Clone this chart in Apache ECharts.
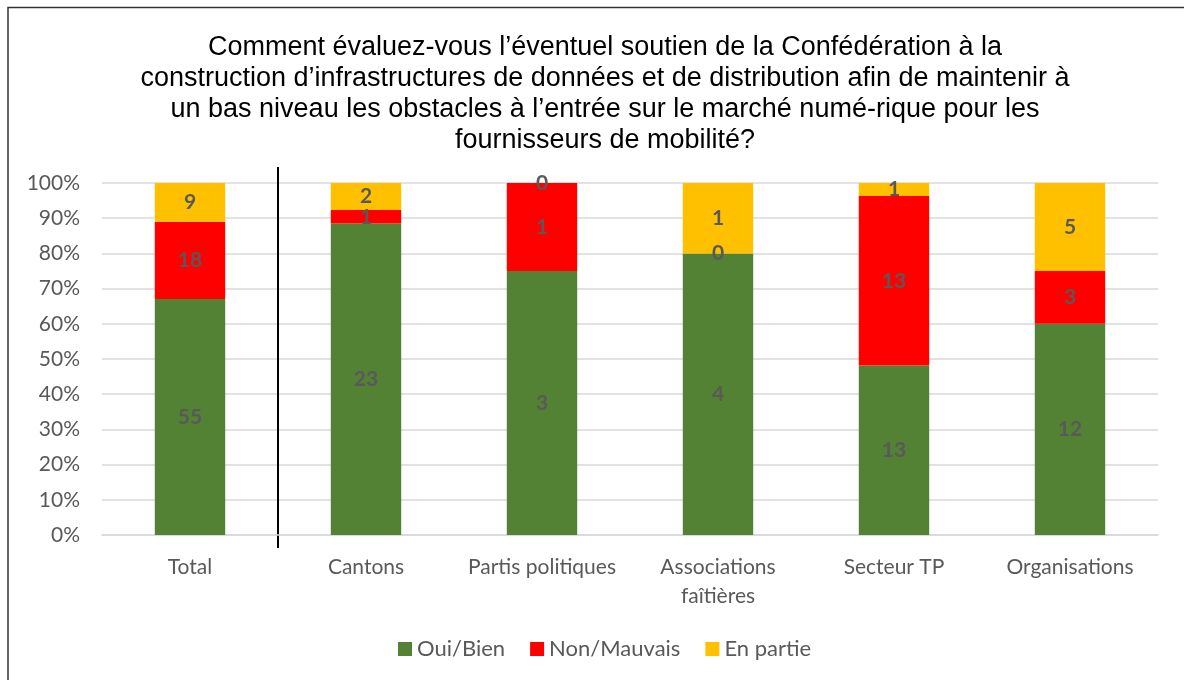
<!DOCTYPE html>
<html><head><meta charset="utf-8">
<script src="https://cdn.jsdelivr.net/npm/echarts@6/dist/echarts.min.js"></script>
<style>html,body{margin:0;padding:0;background:#fff}#c{width:1184px;height:680px}</style>
</head><body><div id="c"></div>
<script>
const categories = ['Total', 'Cantons', 'Partis politiques', 'Associations\nfaîtières', 'Secteur TP', 'Organisations'];
const seriesNames = ['Oui/Bien', 'Non/Mauvais', 'En partie'];
const ouiBien = [55, 23, 3, 4, 13, 12];
const nonMauvais = [18, 1, 1, 0, 13, 3];
const enPartie = [9, 2, 0, 1, 1, 5];
const colors = ['#548235', '#FF0000', '#FFC000'];
const yTicks = [0, 10, 20, 30, 40, 50, 60, 70, 80, 90, 100];
const titleText = 'Comment évaluez-vous l’éventuel soutien de la Confédération à la\nconstruction d’infrastructures de données et de distribution afin de maintenir à\nun bas niveau les obstacles à l’entrée sur le marché numé-rique pour les\nfournisseurs de mobilité?';

const counts = [ouiBien, nonMauvais, enPartie];
const totals = categories.map((_, i) => ouiBien[i] + nonMauvais[i] + enPartie[i]);
const FONT = 'Lato, "Open Sans", sans-serif';

const chart = echarts.init(document.getElementById('c'));
const series = counts.map((arr, s) => ({
  name: seriesNames[s],
  type: 'bar',
  stack: 'all',
  barWidth: '40%',
  itemStyle: { color: colors[s] },
  data: arr.map((v, i) => ({ value: v / totals[i] * 100, count: v })),
  label: {
    show: true,
    position: 'inside',
    formatter: p => String(p.data.count),
    color: '#595959',
    fontFamily: FONT,
    fontWeight: 'bold',
    fontSize: 21
  }
}));

chart.setOption({
  backgroundColor: '#fff',
  animation: false,
  title: {
    text: titleText,
    left: 600,
    textAlign: 'center',
    top: 27,
    textStyle: { fontFamily: '"Liberation Sans", Arial, sans-serif', fontWeight: 'normal', fontSize: 27, color: '#000', lineHeight: 31 }
  },
  legend: {
    bottom: 15,
    left: 393,
    itemWidth: 14,
    itemHeight: 14,
    itemGap: 25,
    icon: 'rect',
    textStyle: { fontFamily: FONT, fontSize: 22, color: '#595959' },
    data: seriesNames
  },
  grid: { left: 102, right: 26, top: 183, bottom: 145, containLabel: false },
  xAxis: {
    type: 'category',
    data: categories,
    axisTick: { show: false },
    axisLine: { show: true, lineStyle: { color: '#d9d9d9', width: 1.5 } },
    axisLabel: { margin: 18, fontFamily: FONT, fontSize: 21, color: '#595959', lineHeight: 29, interval: 0 }
  },
  yAxis: {
    type: 'value',
    min: 0, max: 100, interval: 10,
    axisLine: { show: false },
    axisTick: { show: false },
    splitLine: { lineStyle: { color: '#d9d9d9', width: 1.5 } },
    axisLabel: { margin: 22, fontFamily: FONT, fontSize: 21, color: '#595959', formatter: v => v + '%' }
  },
  series: series
});

function drawExtras() {
  const x0 = chart.convertToPixel({ xAxisIndex: 0 }, categories[0]);
  const x1 = chart.convertToPixel({ xAxisIndex: 0 }, categories[1]);
  const xs = (x0 + x1) / 2;
  chart.setOption({
    graphic: [
      { type: 'line', shape: { x1: xs, y1: 167, x2: xs, y2: 548 }, style: { stroke: '#000', lineWidth: 2 } },
      { type: 'polyline', shape: { points: [[8, 700], [8, 7.5], [1200, 7.5]] }, style: { stroke: '#333', lineWidth: 1.5, fill: null } }
    ]
  });
}
drawExtras();
</script>
</body></html>
